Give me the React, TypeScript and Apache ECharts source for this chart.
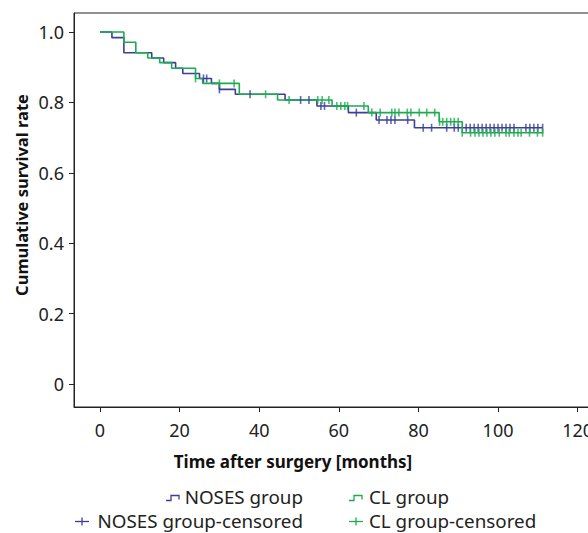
import React, { useEffect, useRef } from "react";
import * as echarts from "echarts";

const xTickValues = [0, 20, 40, 60, 80, 100, 120];
const yTickValues = [0, 0.2, 0.4, 0.6, 0.8, 1.0];

const nosesTimes = [0, 3, 6, 13, 16, 19, 20.8, 25, 28, 30, 34, 46.5, 54.5, 62.4, 69.4, 79, 111.2];
const nosesSurv = [1.0, 0.984, 0.941, 0.926, 0.913, 0.897, 0.882, 0.868, 0.854, 0.837, 0.823, 0.807, 0.79, 0.771, 0.75, 0.728, 0.728];
const nosesCensored = [26, 26.8, 30, 37.7, 50.4, 52.5, 55.5, 56.4, 64.4, 70.1, 72.1, 73.1, 74.1, 77.3, 81.2, 83.3, 87.1, 89, 90, 92, 93, 94, 95, 96, 97, 98, 99, 100, 101, 102, 103, 104, 107, 108, 109, 110, 111.2];

const clTimes = [0, 6, 9, 12, 15, 18, 24, 25.8, 35, 44.6, 58.3, 67.4, 85.2, 91, 111.4];
const clSurv = [1.0, 0.971, 0.941, 0.926, 0.913, 0.897, 0.868, 0.854, 0.823, 0.807, 0.79, 0.771, 0.745, 0.714, 0.714];
const clCensored = [24, 30, 33.7, 41.6, 47.5, 54.7, 55.8, 57.5, 59.5, 60.5, 61.5, 62.2, 66.3, 68.3, 70.4, 73.3, 74.1, 75.1, 77.2, 78.1, 80.2, 82.1, 84.1, 85.3, 86.1, 87.1, 88.1, 89, 90, 91, 93.1, 94.2, 95.2, 96.2, 97.2, 98.2, 99.2, 100.3, 102, 102.8, 104, 105, 105.8, 107.9, 109.9, 111.2];

const legendNames = ["NOSES group", "CL group", "NOSES group-censored", "CL group-censored"];

const BLUE = "#3b3f98";
const GREEN = "#1dab4f";
const FONT = "'Noto Sans', 'Open Sans', sans-serif";

function survAt(times: number[], surv: number[], t: number) {
  let v = surv[0];
  for (let i = 0; i < times.length; i++) {
    if (times[i] <= t) v = surv[i];
  }
  return v;
}

export default function App() {
  const ref = useRef<HTMLDivElement>(null);
  useEffect(() => {
    if (!ref.current) return;
    const chart = echarts.init(ref.current, null, { renderer: "svg" });
    const tickSym = "path://M0,0H2V10H0Z";
    const r1 = 496.5;
    const r2 = 520.5;
    chart.setOption({
      animation: false,
      textStyle: { fontFamily: FONT },
      grid: {
        left: 74,
        top: 13,
        right: -2,
        bottom: 126,
        show: true,
        borderColor: "#222",
        borderWidth: 1,
        outerBoundsMode: "none",
        containLabel: false,
      },
      xAxis: {
        type: "value",
        min: -6.53,
        max: 123.1,
        splitLine: { show: false },
        axisLine: { show: true, onZero: false, lineStyle: { color: "#222", width: 1 } },
        axisTick: { show: true, length: 5, customValues: xTickValues, lineStyle: { color: "#222" } },
        axisLabel: { customValues: xTickValues, margin: 14, fontSize: 18, color: "#222", fontFamily: FONT },
      },
      yAxis: {
        type: "value",
        min: -0.0653,
        max: 1.054,
        splitLine: { show: false },
        axisLine: { show: true, onZero: false, lineStyle: { color: "#222", width: 1 } },
        axisTick: { show: true, length: 5, customValues: yTickValues, lineStyle: { color: "#222" } },
        axisLabel: {
          customValues: yTickValues,
          margin: 10,
          fontSize: 18,
          color: "#222",
          fontFamily: FONT,
          formatter: (v: number) => (v === 0 ? "0" : v.toFixed(1)),
        },
      },
      series: [
        {
          name: legendNames[0],
          type: "line",
          step: "end",
          symbol: "none",
          lineStyle: { color: BLUE, width: 1.6 },
          data: nosesTimes.map((t, i) => [t, nosesSurv[i]]),
          z: 2,
        },
        {
          name: legendNames[1],
          type: "line",
          step: "end",
          symbol: "none",
          lineStyle: { color: GREEN, width: 1.6 },
          data: clTimes.map((t, i) => [t, clSurv[i]]),
          z: 3,
        },
        {
          name: legendNames[2],
          type: "scatter",
          symbol: tickSym,
          symbolSize: [1.6, 8],
          itemStyle: { color: BLUE },
          data: nosesCensored.map((t) => [t, survAt(nosesTimes, nosesSurv, t)]),
          z: 4,
        },
        {
          name: legendNames[3],
          type: "scatter",
          symbol: tickSym,
          symbolSize: [1.6, 8],
          itemStyle: { color: GREEN },
          data: clCensored.map((t) => [t, survAt(clTimes, clSurv, t)]),
          z: 5,
        },
      ],
      graphic: [
        {
          type: "text",
          x: 293,
          y: 461,
          style: { text: "Time after surgery [months]", font: `bold 17px ${FONT}`, fill: "#111", align: "center", verticalAlign: "middle" },
        },
        {
          type: "text",
          x: 21,
          y: 195,
          rotation: Math.PI / 2,
          style: { text: "Cumulative survival rate", font: `bold 16.5px ${FONT}`, fill: "#111", align: "center", verticalAlign: "middle" },
        },
        // legend row 1
        { type: "polyline", shape: { points: [[166, r1 + 4], [171, r1 + 4], [171, r1 - 1], [179, r1 - 1], [179, r1 + 3]] }, style: { stroke: BLUE, lineWidth: 1.3, fill: "none" } },
        { type: "text", x: 303, y: r1, style: { text: legendNames[0], font: `18.8px ${FONT}`, fill: "#222", align: "right", verticalAlign: "middle" } },
        { type: "polyline", shape: { points: [[349, r1 + 4], [354, r1 + 4], [354, r1 - 1], [362, r1 - 1], [362, r1 + 3]] }, style: { stroke: GREEN, lineWidth: 1.3, fill: "none" } },
        { type: "text", x: 369, y: r1, style: { text: legendNames[1], font: `18.8px ${FONT}`, fill: "#222", align: "left", verticalAlign: "middle" } },
        // legend row 2
        { type: "line", shape: { x1: 75, y1: r2 + 1, x2: 89, y2: r2 + 1 }, style: { stroke: BLUE, lineWidth: 1.3 } },
        { type: "line", shape: { x1: 82, y1: r2 - 3, x2: 82, y2: r2 + 5 }, style: { stroke: BLUE, lineWidth: 1.3 } },
        { type: "text", x: 303, y: r2, style: { text: legendNames[2], font: `18.8px ${FONT}`, fill: "#222", align: "right", verticalAlign: "middle" } },
        { type: "line", shape: { x1: 349, y1: r2 + 1, x2: 363, y2: r2 + 1 }, style: { stroke: GREEN, lineWidth: 1.3 } },
        { type: "line", shape: { x1: 356, y1: r2 - 3, x2: 356, y2: r2 + 5 }, style: { stroke: GREEN, lineWidth: 1.3 } },
        { type: "text", x: 369, y: r2, style: { text: legendNames[3], font: `18.8px ${FONT}`, fill: "#222", align: "left", verticalAlign: "middle" } },
      ],
    });
    return () => chart.dispose();
  }, []);
  return <div ref={ref} style={{ width: 588, height: 533, position: "absolute", left: 0, top: 0 }} />;
}
